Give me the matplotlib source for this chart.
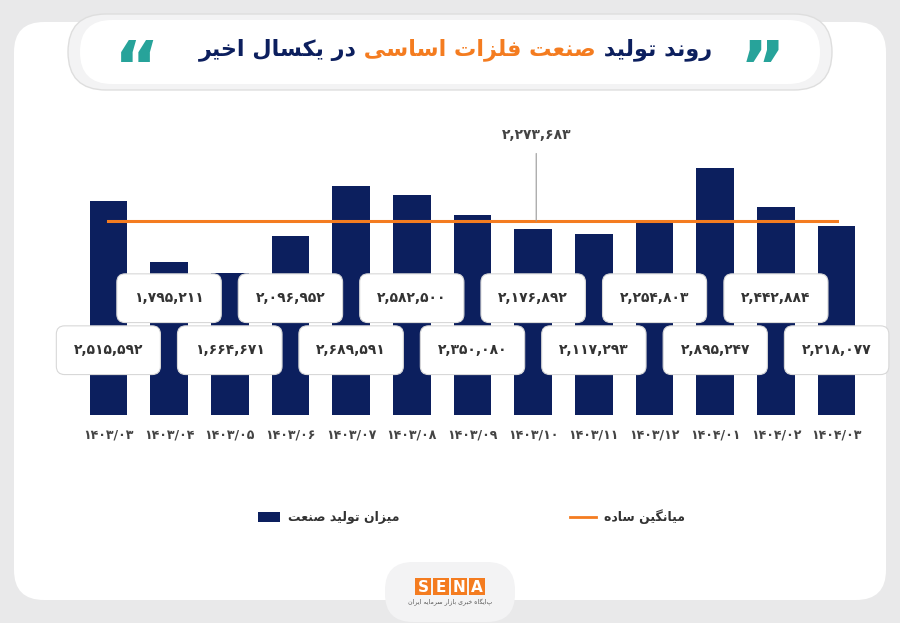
import matplotlib
matplotlib.use("Agg")
import matplotlib.pyplot as plt
from matplotlib.patches import FancyBboxPatch, Rectangle
import numpy as np

months = ["1403/03","1403/04","1403/05","1403/06","1403/07","1403/08","1403/09",
          "1403/10","1403/11","1403/12","1404/01","1404/02","1404/03"]
production = [2515592,1795211,1664671,2096952,2689591,2582500,2350080,
              2176892,2117293,2254803,2895247,2442884,2218077]
average = 2273683

FORMS = {
 'ا':('\uFE8D','\uFE8E',None,None),'ب':('\uFE8F','\uFE90','\uFE91','\uFE92'),
 'ت':('\uFE95','\uFE96','\uFE97','\uFE98'),'خ':('\uFEA5','\uFEA6','\uFEA7','\uFEA8'),
 'د':('\uFEA9','\uFEAA',None,None),'ر':('\uFEAD','\uFEAE',None,None),
 'ز':('\uFEAF','\uFEB0',None,None),'س':('\uFEB1','\uFEB2','\uFEB3','\uFEB4'),
 'ص':('\uFEB9','\uFEBA','\uFEBB','\uFEBC'),'ع':('\uFEC9','\uFECA','\uFECB','\uFECC'),
 'ف':('\uFED1','\uFED2','\uFED3','\uFED4'),'ل':('\uFEDD','\uFEDE','\uFEDF','\uFEE0'),
 'م':('\uFEE1','\uFEE2','\uFEE3','\uFEE4'),'ن':('\uFEE5','\uFEE6','\uFEE7','\uFEE8'),
 'ه':('\uFEE9','\uFEEA','\uFEEB','\uFEEC'),'و':('\uFEED','\uFEEE',None,None),
 'ی':('\uFBFC','\uFBFD','\uFBFE','\uFBFF'),'ک':('\uFB8E','\uFB8F','\uFB90','\uFB91'),
 'گ':('\uFB92','\uFB93','\uFB94','\uFB95'),
}
def joins_next(c):
    return c in FORMS and FORMS[c][2] is not None
def shape(s):
    out = []
    for i, c in enumerate(s):
        if c not in FORMS:
            out.append(c); continue
        prev = s[i-1] if i > 0 else ' '
        nxt = s[i+1] if i+1 < len(s) else ' '
        jp = joins_next(prev)
        jn = nxt in FORMS and FORMS[c][2] is not None
        iso, fin, ini, med = FORMS[c]
        if jp and jn: out.append(med)
        elif jp: out.append(fin)
        elif jn: out.append(ini)
        else: out.append(iso)
    return ''.join(out[::-1])

PD = str.maketrans('0123456789', '۰۱۲۳۴۵۶۷۸۹')
def fa(n): return f"{n:,}".translate(PD)

NAVY = '#0c1f5e'; ORANGE = '#f47c20'; TEAL = '#27a39a'
W, H = 900, 623
fig = plt.figure(figsize=(9, 6.23), dpi=100)
fig.patch.set_facecolor('#e9e9ea')
bg = fig.add_axes([0, 0, 1, 1]); bg.set_xlim(0, W); bg.set_ylim(H, 0); bg.axis('off')
bg.add_patch(FancyBboxPatch((14, 22), 872, 578, boxstyle="round,pad=0,rounding_size=30",
                            fc='white', ec='none'))
bg.add_patch(FancyBboxPatch((68, 14), 764, 76, boxstyle="round,pad=0,rounding_size=38",
                            fc='#f3f3f4', ec='#dedede', lw=1))
bg.add_patch(FancyBboxPatch((80, 20), 740, 64, boxstyle="round,pad=0,rounding_size=32",
                            fc='white', ec='none'))
bg.text(762, 72, '\u201D', color=TEAL, fontsize=50, fontweight='bold', ha='center', va='center', family='DejaVu Sans')
bg.text(137, 72, '\u201C', color=TEAL, fontsize=50, fontweight='bold', ha='center', va='center', family='DejaVu Sans')
segs = [("روند تولید ", NAVY), ("صنعت فلزات اساسی ", ORANGE), ("در یکسال اخیر", NAVY)]
fig.canvas.draw()
r = fig.canvas.get_renderer()
x = 712
for s, col in segs:
    t = bg.text(x, 50, shape(s), color=col, fontsize=16, fontweight='bold', ha='right', va='center')
    bb = t.get_window_extent(r)
    x -= bb.width * W / fig.bbox.width

ax = fig.add_axes([75/W, 1-415/H, 795/W, 295/H])
ax.set_facecolor('none')
xs = np.arange(len(months))
ax.bar(xs, production, width=0.62, color=NAVY, zorder=2)
ax.plot([0, len(months)-1], [average, average], color=ORANGE, lw=2.2, zorder=3)
ax.set_ylim(0, 3.46e6); ax.set_xlim(-0.55, len(months)-0.45)
for s in ax.spines.values(): s.set_visible(False)
ax.set_yticks([])
ax.set_xticks(xs)
ax.set_xticklabels([m.translate(PD) for m in months], fontsize=9, fontweight='bold', color='#444')
ax.tick_params(axis='x', length=0, pad=10)
ax.annotate(fa(average), xy=(7.05, average), xytext=(7.05, 3.28e6), ha='center', va='center',
            fontsize=10, fontweight='bold', color='#444',
            arrowprops=dict(arrowstyle='-', color='#999', lw=0.8, shrinkA=6, shrinkB=0))
for i, v in enumerate(production):
    y = 7.6e5 if i % 2 == 0 else 1.37e6
    ax.annotate(fa(v), xy=(i, y), ha='center', va='center', fontsize=10, fontweight='bold',
                color='#333', zorder=5,
                bbox=dict(boxstyle='round,pad=1.25,rounding_size=0.6', fc='white', ec='#d8d8d8', lw=0.8))

bg.add_patch(Rectangle((258, 512), 22, 10, fc=NAVY))
bg.text(288, 517, shape("میزان تولید صنعت"), fontsize=9, fontweight='bold', color='#333', va='center', ha='left')
bg.plot([570, 596], [517, 517], color=ORANGE, lw=2)
bg.text(604, 517, shape("میانگین ساده"), fontsize=9, fontweight='bold', color='#333', va='center', ha='left')

bg.add_patch(FancyBboxPatch((385, 562), 130, 60, boxstyle="round,pad=0,rounding_size=28",
                            fc='#f3f3f4', ec='none'))
for k, ch in enumerate("SENA"):
    bg.add_patch(Rectangle((415 + k*18, 578), 16, 17, fc=ORANGE, ec='none'))
    bg.text(423 + k*18, 587, ch, color='white', fontsize=11, fontweight='bold', ha='center', va='center')
bg.text(450, 602, shape("پایگاه خبری بازار سرمایه ایران"), fontsize=4.5, color='#555', ha='center', va='center')
fig.savefig('out.png', dpi=100, facecolor=fig.get_facecolor())
